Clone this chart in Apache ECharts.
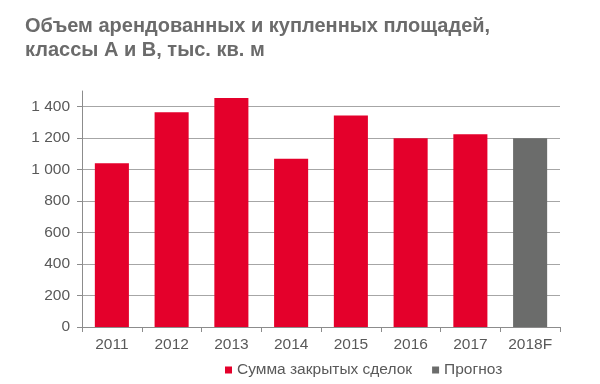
<!DOCTYPE html>
<html><head><meta charset="utf-8">
<script src="https://cdn.jsdelivr.net/npm/echarts@6/dist/echarts.min.js"></script>
<style>html,body{margin:0;padding:0;background:#fff}#c{width:600px;height:384px}</style>
</head><body><div id="c"></div>
<script>
const categories = ['2011','2012','2013','2014','2015','2016','2017','2018F'];
const actualValues = [1040, 1365, 1455, 1070, 1345, 1200, 1225, '-'];
const forecastValues = ['-', '-', '-', '-', '-', '-', '-', 1200];
const seriesNames = ['Сумма закрытых сделок', 'Прогноз'];
const titleText = 'Объем арендованных и купленных площадей,\nклассы А и В, тыс. кв. м';

const chart = echarts.init(document.getElementById('c'));
const font = 'Liberation Sans, Arial, sans-serif';
chart.setOption({
  animation: false,
  textStyle: {fontFamily: font},
  title: {
    text: titleText, left: 20, top: 9,
    textStyle: {fontFamily: font, fontSize: 20, fontWeight: 'bold', color: '#6b6b6b', lineHeight: 24}
  },
  grid: {left: 82, right: 40, top: 91, bottom: 57},
  legend: {
    data: seriesNames, top: 357, left: 220, icon: 'rect', itemWidth: 7, itemHeight: 7, itemGap: 20,
    textStyle: {fontFamily: font, fontSize: 15.5, color: '#595959'}
  },
  xAxis: {
    type: 'category', data: categories,
    axisLine: {lineStyle: {color: '#8c8c8c'}},
    axisTick: {show: true, alignWithLabel: false, length: 5, lineStyle: {color: '#8c8c8c'}},
    axisLabel: {fontFamily: font, fontSize: 15.5, color: '#595959', margin: 10}
  },
  yAxis: {
    type: 'value', min: 0, max: 1500, interval: 200,
    axisLine: {show: true, lineStyle: {color: '#8c8c8c'}},
    axisTick: {show: true, length: 5, lineStyle: {color: '#8c8c8c'}},
    axisLabel: {
      fontFamily: font, fontSize: 15.5, color: '#595959', margin: 12, showMaxLabel: false,
      formatter: v => v >= 1000 ? Math.floor(v/1000) + ' ' + String(v%1000).padStart(3,'0') : String(v)
    },
    splitLine: {show: true, lineStyle: {color: ['#a6a6a6','#a6a6a6','#a6a6a6','#a6a6a6','#a6a6a6','#a6a6a6','#a6a6a6','#a6a6a6','rgba(0,0,0,0)'], width: 1}}
  },
  series: [
    {name: seriesNames[0], type: 'bar', data: actualValues, barWidth: '57%', barGap: '-100%',
     itemStyle: {color: '#e4002b'}},
    {name: seriesNames[1], type: 'bar', data: forecastValues, barWidth: '57%', barGap: '-100%',
     itemStyle: {color: '#6b6c6b'}}
  ]
});
</script></body></html>
